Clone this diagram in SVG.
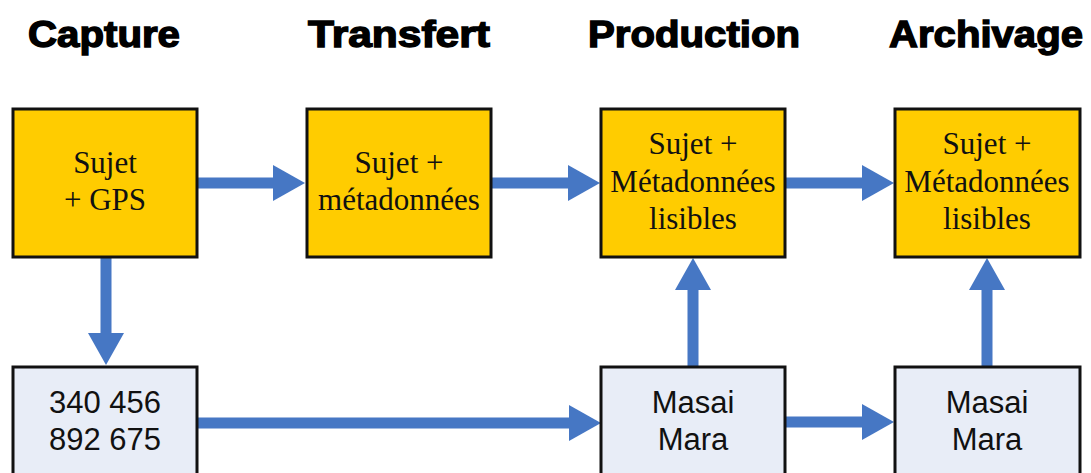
<svg xmlns="http://www.w3.org/2000/svg" width="1091" height="473" viewBox="0 0 1091 473">
  <style>
    .title { font-family: "Liberation Sans", Arial, sans-serif; font-weight: bold; font-size: 37px; fill: #000; stroke: #000; stroke-width: 1.4px; text-anchor: middle; }
    .gold { fill: #FFCC00; stroke: #111; stroke-width: 3; }
    .pale { fill: #E8EDF7; stroke: #111; stroke-width: 3; }
    .serif { font-family: "Liberation Serif", "Times New Roman", serif; font-size: 31px; fill: #111; text-anchor: middle; }
    .sans { font-family: "Liberation Sans", Arial, sans-serif; font-size: 31px; fill: #111; text-anchor: middle; }
    .flow { stroke: #4677C4; stroke-width: 11; stroke-linecap: round; fill: none; }
  </style>
  <defs>
    <marker id="head" viewBox="0 0 32 36" refX="0" refY="18" markerWidth="32" markerHeight="36" markerUnits="userSpaceOnUse" orient="auto">
      <path d="M0,0 L32,18 L0,36 Z" fill="#4677C4"/>
    </marker>
  </defs>

  <rect width="1091" height="473" fill="#fff"/>

  <!-- stage headings -->
  <g id="headings">
    <text class="title" x="104" y="47" textLength="152" lengthAdjust="spacingAndGlyphs">Capture</text>
    <text class="title" x="399" y="47" textLength="182" lengthAdjust="spacingAndGlyphs">Transfert</text>
    <text class="title" x="694" y="47" textLength="212" lengthAdjust="spacingAndGlyphs">Production</text>
    <text class="title" x="986" y="47" textLength="194" lengthAdjust="spacingAndGlyphs">Archivage</text>
  </g>

  <!-- connectors -->
  <g id="connectors">
    <line class="flow" x1="197" y1="183" x2="273" y2="183" marker-end="url(#head)"/>
    <line class="flow" x1="492" y1="183" x2="568" y2="183" marker-end="url(#head)"/>
    <line class="flow" x1="786" y1="183" x2="862" y2="183" marker-end="url(#head)"/>
    <line class="flow" x1="106" y1="257" x2="106" y2="333" marker-end="url(#head)"/>
    <line class="flow" x1="197" y1="423" x2="569" y2="423" marker-end="url(#head)"/>
    <line class="flow" x1="785" y1="422" x2="862" y2="422" marker-end="url(#head)"/>
    <line class="flow" x1="693" y1="367" x2="693" y2="290" marker-end="url(#head)"/>
    <line class="flow" x1="987" y1="367" x2="987" y2="290" marker-end="url(#head)"/>
  </g>

  <!-- top row -->
  <g id="capture-subject">
    <rect class="gold" x="13" y="109" width="184" height="148"/>
    <text class="serif" x="105" y="173">Sujet</text>
    <text class="serif" x="105" y="210">+ GPS</text>
  </g>
  <g id="transfer-subject">
    <rect class="gold" x="307" y="109" width="184" height="148"/>
    <text class="serif" x="399" y="173">Sujet +</text>
    <text class="serif" x="399" y="210">métadonnées</text>
  </g>
  <g id="production-subject">
    <rect class="gold" x="601" y="109" width="184" height="148"/>
    <text class="serif" x="693" y="154">Sujet +</text>
    <text class="serif" x="693" y="192">Métadonnées</text>
    <text class="serif" x="693" y="229">lisibles</text>
  </g>
  <g id="archive-subject">
    <rect class="gold" x="895" y="109" width="185" height="148"/>
    <text class="serif" x="987" y="154">Sujet +</text>
    <text class="serif" x="987" y="192">Métadonnées</text>
    <text class="serif" x="987" y="229">lisibles</text>
  </g>

  <!-- bottom row -->
  <g id="gps-coordinates">
    <rect class="pale" x="13" y="367" width="184" height="120"/>
    <text class="sans" x="105" y="413">340 456</text>
    <text class="sans" x="105" y="450">892 675</text>
  </g>
  <g id="production-place">
    <rect class="pale" x="601" y="367" width="184" height="120"/>
    <text class="sans" x="693" y="413">Masai</text>
    <text class="sans" x="693" y="450">Mara</text>
  </g>
  <g id="archive-place">
    <rect class="pale" x="895" y="367" width="185" height="120"/>
    <text class="sans" x="987" y="413">Masai</text>
    <text class="sans" x="987" y="450">Mara</text>
  </g>
</svg>
